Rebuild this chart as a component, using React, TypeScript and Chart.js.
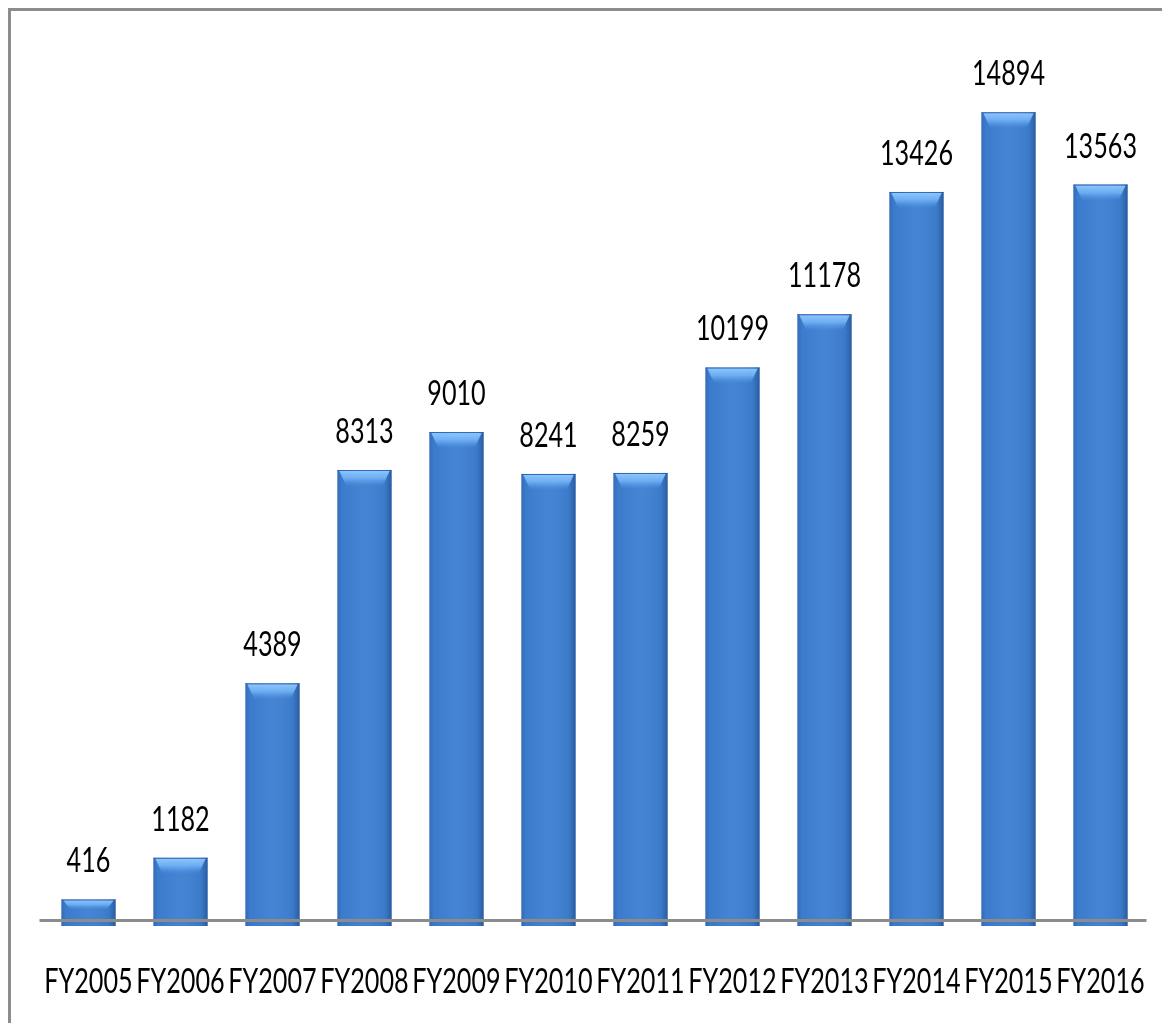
import React, { useEffect, useRef } from "react";
import { Chart, registerables } from "chart.js";

Chart.register(...registerables);

const categories = ["FY2005", "FY2006", "FY2007", "FY2008", "FY2009", "FY2010", "FY2011", "FY2012", "FY2013", "FY2014", "FY2015", "FY2016"];
const values = [416, 1182, 4389, 8313, 9010, 8241, 8259, 10199, 11178, 13426, 14894, 13563];
const yMax = 16000;

const FONT = "Lato, 'Open Sans', sans-serif";
const FONT_SIZE = 35;
const X_SQUEEZE = 0.72;

function narrowText(ctx: CanvasRenderingContext2D, text: string, x: number, y: number) {
  ctx.save();
  ctx.translate(x, y);
  ctx.scale(X_SQUEEZE, 1);
  ctx.fillText(text, 0, 0);
  ctx.restore();
}

const decorPlugin = {
  id: "decor",
  afterDatasetsDraw(chart: any) {
    const ctx = chart.ctx;
    const meta = chart.getDatasetMeta(0);
    const yScale = chart.scales.y;
    const xScale = chart.scales.x;
    const base = yScale.getPixelForValue(0);
    meta.data.forEach((bar: any, i: number) => {
      const w = bar.width;
      const left = bar.x - w / 2;
      const top = bar.y;
      const h = base - top;
      const g = ctx.createLinearGradient(left, 0, left + w, 0);
      g.addColorStop(0, "rgba(20,50,100,0.25)");
      g.addColorStop(0.08, "rgba(20,50,100,0.05)");
      g.addColorStop(0.5, "rgba(255,255,255,0.04)");
      g.addColorStop(0.88, "rgba(20,50,100,0.08)");
      g.addColorStop(1, "rgba(20,50,100,0.45)");
      ctx.save();
      ctx.fillStyle = "#3c7bcf";
      ctx.fillRect(left, base, w, 4);
      ctx.fillStyle = g;
      ctx.fillRect(left, top, w, h + 4);
      const bev = Math.min(16, h * 0.45);
      const vg = ctx.createLinearGradient(0, top, 0, top + bev);
      vg.addColorStop(0, "rgba(150,205,255,0.95)");
      vg.addColorStop(0.5, "rgba(120,185,250,0.8)");
      vg.addColorStop(1, "rgba(90,160,235,0.0)");
      ctx.fillStyle = vg;
      ctx.beginPath();
      ctx.moveTo(left + 2, top + 1);
      ctx.lineTo(left + w - 2, top + 1);
      ctx.lineTo(left + w - 9, top + bev);
      ctx.lineTo(left + 9, top + bev);
      ctx.closePath();
      ctx.fill();
      ctx.fillStyle = "rgba(40,90,170,0.6)";
      ctx.fillRect(left, top, w, 1);
      ctx.fillStyle = "#000000";
      ctx.font = FONT_SIZE + "px " + FONT;
      ctx.textAlign = "center";
      ctx.textBaseline = "alphabetic";
      narrowText(ctx, String(values[i]), bar.x, top - 27);
      ctx.restore();
    });
    // category labels
    ctx.save();
    ctx.fillStyle = "#000000";
    ctx.font = FONT_SIZE + "px " + FONT;
    ctx.textAlign = "center";
    ctx.textBaseline = "alphabetic";
    categories.forEach((c, i) => {
      narrowText(ctx, c, xScale.getPixelForValue(i), base + 71);
    });
    ctx.restore();
    // axis line
    ctx.save();
    ctx.strokeStyle = "#8c8c8c";
    ctx.lineWidth = 3;
    ctx.beginPath();
    ctx.moveTo(chart.chartArea.left - 3, base - 1.5);
    ctx.lineTo(chart.chartArea.right, base - 1.5);
    ctx.stroke();
    ctx.restore();
  },
};

export default function App() {
  const ref = useRef<HTMLCanvasElement | null>(null);
  useEffect(() => {
    if (!ref.current) return;
    const chart = new Chart(ref.current, {
      type: "bar",
      data: {
        labels: categories,
        datasets: [
          {
            data: values,
            backgroundColor: "#3e7fd2",
            borderWidth: 0,
            barPercentage: 0.59,
            categoryPercentage: 1,
          },
        ],
      },
      options: {
        animation: false,
        responsive: false,
        maintainAspectRatio: false,
        layout: { padding: { left: 31.5, right: 23.5, top: 41, bottom: 101 } },
        plugins: { legend: { display: false }, tooltip: { enabled: false } },
        scales: {
          y: { display: false, min: 0, max: yMax },
          x: { display: false },
        },
      },
      plugins: [decorPlugin],
    });
    return () => chart.destroy();
  }, []);
  return (
    <div style={{ borderTop: "3px solid #8c8c8c", borderLeft: "3px solid #8c8c8c", width: 1159, height: 1012, background: "#fff" }}>
      <canvas ref={ref} width={1159} height={1012} style={{ display: "block" }} />
    </div>
  );
}
